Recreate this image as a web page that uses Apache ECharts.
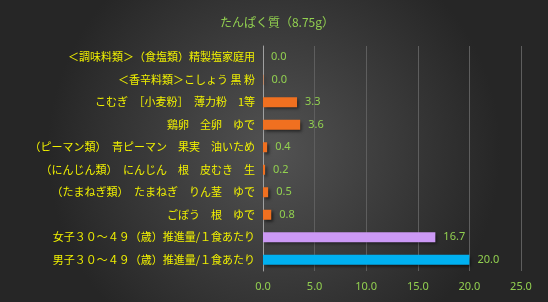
<!DOCTYPE html>
<html><head><meta charset="utf-8">
<script src="https://cdn.jsdelivr.net/npm/echarts@6/dist/echarts.min.js"></script>
<style>html,body{margin:0;padding:0;background:#333;}#c{width:548px;height:302px;}</style>
</head><body><div id="c"></div>
<script>
const titleText = 'たんぱく質（8.75g）';
const categories = [
  '＜調味料類＞（食塩類）精製塩家庭用',
  '＜香辛料類＞こしょう 黒 粉',
  'こむぎ　［小麦粉］　薄力粉　1等',
  '鶏卵　全卵　ゆで',
  '（ピーマン類）　青ピーマン　果実　油いため',
  '（にんじん類）　にんじん　根　皮むき　生',
  '（たまねぎ類）　たまねぎ　りん茎　ゆで',
  'ごぼう　根　ゆで',
  '女子３０～４９（歳）推進量/１食あたり',
  '男子３０～４９（歳）推進量/１食あたり'
];
const values = [0.0, 0.04, 3.3, 3.6, 0.4, 0.2, 0.5, 0.8, 16.7, 20.0];
const barColors = ['#F07020','#F07020','#F07020','#F07020','#F07020','#F07020','#F07020','#F07020','#CC99F5','#00B0F0'];
const xTicks = {min: 0, max: 25, interval: 5};

const chart = echarts.init(document.getElementById('c'));
chart.setOption({
  animation: false,
  backgroundColor: {type:'radial', x:0.5, y:0.5, r:0.75,
    colorStops:[{offset:0,color:'#525252'},{offset:1,color:'#262626'}]},
  title: {text: titleText, left: 272, top: 11, textAlign: 'center',
    textStyle: {color:'#92D050', fontSize:12, fontWeight:'normal', fontFamily:'Noto Sans CJK JP'}},
  grid: {left: 263, right: 27, top: 46, bottom: 31},
  xAxis: {type:'value', min:xTicks.min, max:xTicks.max, interval:xTicks.interval,
    axisLine:{show:false}, axisTick:{show:false},
    splitLine:{lineStyle:{color:'#5e5e5e', width:1}},
    axisLabel:{color:'#92D050', fontSize:11, margin:10, fontFamily:'Noto Sans',
      formatter: v => v.toFixed(1)}},
  yAxis: {type:'category', data: categories, inverse: true,
    axisLine:{show:true, lineStyle:{color:'#a0a0a0', width:1}}, axisTick:{show:false},
    axisLabel:{color:'#F0F000', fontSize:11, margin:8, fontFamily:'Noto Sans CJK JP'}},
  series: [{
    type:'bar', barWidth: 10,
    data: values.map((v,i)=>({value:v, itemStyle:{color:barColors[i]}})),
    itemStyle:{shadowColor:'rgba(0,0,0,0.55)', shadowBlur:3, shadowOffsetX:2, shadowOffsetY:2},
    label:{show:true, position:'right', distance:8, color:'#92D050', fontSize:11,
      fontFamily:'Noto Sans', formatter: p => p.value.toFixed(1)}
  }]
});
</script></body></html>
